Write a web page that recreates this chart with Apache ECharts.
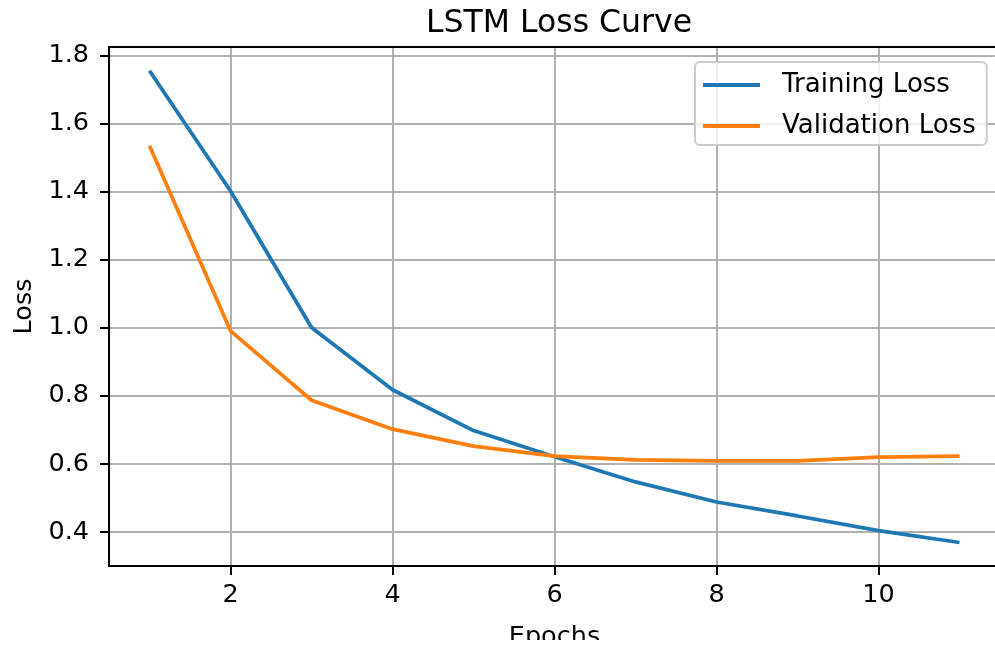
<!DOCTYPE html>
<html>
<head>
<meta charset="utf-8">
<script src="https://cdn.jsdelivr.net/npm/echarts@6/dist/echarts.min.js"></script>
<style>
  html, body { margin: 0; padding: 0; background: #fff; }
  #lossChart { width: 995px; height: 647px; }
</style>
</head>
<body>
<div id="lossChart"></div>
<script>
// epochs and loss values
var epochs = [1, 2, 3, 4, 5, 6, 7, 8, 9, 10, 11];
var trainingLoss = [1.755, 1.402, 1.001, 0.818, 0.698, 0.621, 0.547, 0.488, 0.447, 0.404, 0.369];
var validationLoss = [1.535, 0.991, 0.787, 0.702, 0.652, 0.623, 0.612, 0.609, 0.609, 0.620, 0.623];
var xTicks = [2, 4, 6, 8, 10];
var yTicks = [0.4, 0.6, 0.8, 1.0, 1.2, 1.4, 1.6, 1.8];

var font = "DejaVu Sans";

function pairs(vals) {
  return epochs.map(function (e, i) {
    return [e, vals[i]];
  });
}

var chart = echarts.init(document.getElementById("lossChart"));
var option = {
  animation: false,
  backgroundColor: "#fff",
  textStyle: { fontFamily: font },
  title: {
    text: "LSTM Loss Curve",
    left: 554,
    textAlign: "center",
    top: 3,
    textStyle: { fontFamily: font, fontSize: 31.5, fontWeight: "normal", color: "#000" },
  },
  grid: {
    left: 109,
    top: 47,
    width: 891,
    height: 519,
    outerBoundsMode: "none", // plot runs past the right edge, like the reference
  },
  legend: {
    left: 695,
    top: 62,
    orient: "vertical",
    icon: "rect",
    itemWidth: 57,
    itemHeight: 4,
    itemGap: 13,
    padding: [9, 11, 5, 8],
    backgroundColor: "rgba(255,255,255,0.8)",
    borderColor: "#cccccc",
    borderWidth: 2,
    borderRadius: 5,
    textStyle: {
      fontFamily: font,
      fontSize: 26,
      color: "#000",
      lineHeight: 28,
      padding: [0, 0, 0, 17],
    },
    data: ["Training Loss", "Validation Loss"],
  },
  xAxis: [
    {
      type: "value",
      min: 0.5,
      max: 11.5,
      name: "Epochs",
      nameLocation: "middle",
      nameGap: 58,
      nameTextStyle: { fontFamily: font, fontSize: 25.5, color: "#000" },
      axisLine: { show: true, onZero: false, lineStyle: { color: "#000", width: 2 } },
      axisTick: {
        show: true,
        length: 9,
        customValues: xTicks,
        lineStyle: { color: "#000", width: 2 },
      },
      axisLabel: {
        customValues: xTicks,
        margin: 16,
        fontFamily: font,
        fontSize: 25.5,
        color: "#000",
      },
      splitLine: { show: true, lineStyle: { color: "#b0b0b0", width: 2 } },
    },
    {
      // top spine only
      type: "value",
      position: "top",
      min: 0.5,
      max: 11.5,
      axisLine: { show: true, onZero: false, lineStyle: { color: "#000", width: 2 } },
      axisTick: { show: false },
      axisLabel: { show: false },
      splitLine: { show: false },
    },
  ],
  yAxis: {
    type: "value",
    min: 0.3,
    max: 1.825,
    name: "Loss",
    nameLocation: "middle",
    nameGap: 70,
    nameTextStyle: { fontFamily: font, fontSize: 25.5, color: "#000" },
    axisLine: { show: true, onZero: false, lineStyle: { color: "#000", width: 2 } },
    axisTick: {
      show: true,
      length: 9,
      customValues: yTicks,
      lineStyle: { color: "#000", width: 2 },
    },
    axisLabel: {
      customValues: yTicks,
      margin: 20,
      fontFamily: font,
      fontSize: 25.5,
      color: "#000",
      formatter: function (v) {
        return v.toFixed(1);
      },
    },
    splitLine: { show: true, lineStyle: { color: "#b0b0b0", width: 2 } },
  },
  series: [
    {
      name: "Training Loss",
      type: "line",
      data: pairs(trainingLoss),
      symbol: "none",
      color: "#1f77b4",
      lineStyle: { width: 3.75, color: "#1f77b4" },
      z: 3,
    },
    {
      name: "Validation Loss",
      type: "line",
      data: pairs(validationLoss),
      symbol: "none",
      color: "#ff7f0e",
      lineStyle: { width: 3.75, color: "#ff7f0e" },
      z: 4,
    },
  ],
  graphic: [
    {
      // the reference picture is cut off just below the axis name
      type: "rect",
      left: 0,
      top: 640,
      shape: { width: 995, height: 7 },
      style: { fill: "#fff" },
      z: 100,
    },
  ],
};
chart.setOption(option);
</script>
</body>
</html>
